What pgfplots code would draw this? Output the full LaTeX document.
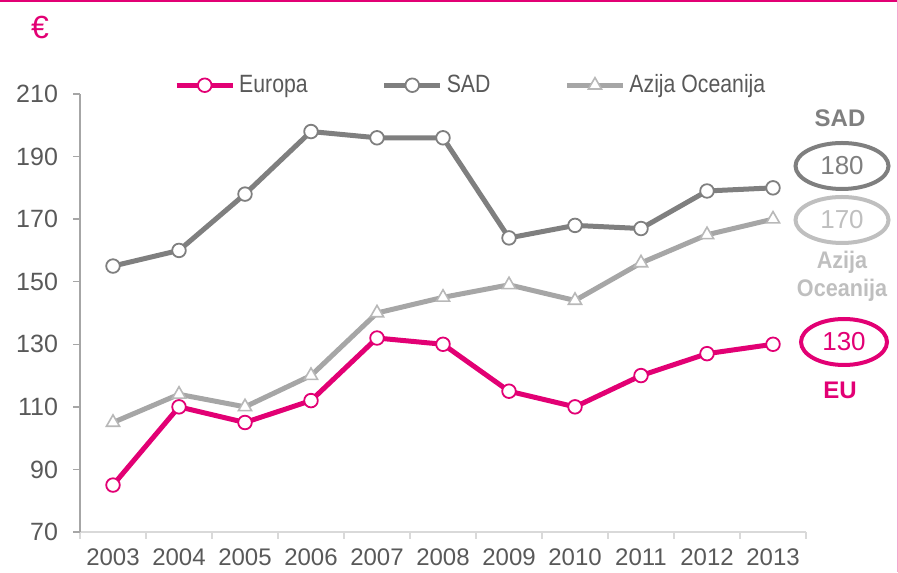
\documentclass[border=0pt]{standalone}
\usepackage{pgfplots}
\pgfplotsset{compat=1.18}
\usepackage{fontspec}
\setmainfont{Liberation Sans}
\newfontfamily\narrowfont[FakeStretch=0.85]{Liberation Sans}
\newfontfamily\semifont[FakeStretch=0.9]{Liberation Sans}
\definecolor{mag}{HTML}{E20074}
\definecolor{sadgray}{HTML}{7F7F7F}
\definecolor{azgray}{HTML}{A6A6A6}
\definecolor{lblgray}{HTML}{BFBFBF}
\definecolor{tickgray}{HTML}{595959}
\begin{document}
\begin{tikzpicture}
\useasboundingbox (0,0) rectangle (449pt,286pt);
\draw[mag, line width=1pt] (0,285.5pt) -- (449pt,285.5pt);
\draw[mag!35, line width=0.6pt] (448.6pt,0) -- (448.6pt,286pt);
\node[mag, font=\fontsize{16}{16}\selectfont] at (20pt,272.5pt) {€};
\begin{axis}[
  at={(40pt,20pt)}, anchor=south west, scale only axis,
  width=363pt, height=219pt,
  xmin=-0.5, xmax=10.5, ymin=70, ymax=210,
  axis x line*=bottom, axis y line*=left,
  x axis line style={draw=black!15, line width=0.75pt},
  y axis line style={draw=azgray, line width=0.75pt},
  xtick={0,...,10},
  xticklabels={2003,2004,2005,2006,2007,2008,2009,2010,2011,2012,2013},
  minor xtick={-0.5,0.5,...,10.5},
  ytick={70,90,...,210},
  /pgf/number format/assume math mode=true,
  tick align=outside, minor tick length=3.5pt, major tick length=3.5pt,
  major x tick style={draw=none},
  ytick style={draw=azgray, line width=0.75pt},
  minor x tick style={draw=black!15, line width=0.75pt},
  xticklabel style={font=\fontsize{12}{12}\selectfont, text=tickgray, yshift=-1.5pt},
  yticklabel style={font=\fontsize{12.5}{12.5}\selectfont, text=tickgray, xshift=-4pt},
  legend style={draw=none, fill=none, at={(0.121,1.02)}, anchor=west,
    font=\narrowfont\fontsize{12.5}{12.5}\selectfont, text=tickgray,
    /tikz/every even column/.append style={column sep=35pt}},
  legend columns=3, legend cell align=left,
  legend image code/.code={\draw[mark repeat=2, mark phase=2] plot coordinates {(0pt,0pt) (14pt,0pt) (28pt,0pt)};},
  clip=false,
]
\addplot[mag, line width=2.5pt, mark=*, mark size=3.4pt, mark options={fill=white, draw=mag, line width=0.9pt}]
  coordinates {(0,85) (1,110) (2,105) (3,112) (4,132) (5,130) (6,115) (7,110) (8,120) (9,127) (10,130)};
\addlegendentry{Europa}
\addplot[sadgray, line width=2.5pt, mark=*, mark size=3.4pt, mark options={fill=white, draw=sadgray, line width=0.9pt}]
  coordinates {(0,155) (1,160) (2,178) (3,198) (4,196) (5,196) (6,164) (7,168) (8,167) (9,179) (10,180)};
\addlegendentry{SAD}
\addplot[azgray, line width=2.5pt, mark=triangle*, mark size=3.8pt, mark options={fill=white, draw=azgray!80, line width=0.8pt}]
  coordinates {(0,105) (1,114) (2,110) (3,120) (4,140) (5,145) (6,149) (7,144) (8,156) (9,165) (10,170)};
\addlegendentry{Azija Oceanija}
\end{axis}
\node[sadgray, font=\bfseries\fontsize{12}{12}\selectfont] at (420pt,227pt) {SAD};
\draw[sadgray, line width=2pt] (421pt,203pt) ellipse [x radius=23.25pt, y radius=11.5pt];
\node[sadgray, font=\fontsize{13}{13}\selectfont] at (421pt,203pt) {180};
\draw[lblgray, line width=2pt] (421pt,176pt) ellipse [x radius=23.25pt, y radius=11.5pt];
\node[lblgray, font=\fontsize{13}{13}\selectfont] at (421pt,176pt) {170};
\node[lblgray, font=\semifont\bfseries\fontsize{12}{14}\selectfont, align=center] at (421pt,148pt) {Azija\\Oceanija};
\draw[mag, line width=2pt] (422pt,115pt) ellipse [x radius=21.5pt, y radius=11.5pt];
\node[mag, font=\fontsize{13}{13}\selectfont] at (422pt,115pt) {130};
\node[mag, font=\bfseries\fontsize{12}{12}\selectfont] at (420pt,91pt) {EU};
\end{tikzpicture}
\end{document}
